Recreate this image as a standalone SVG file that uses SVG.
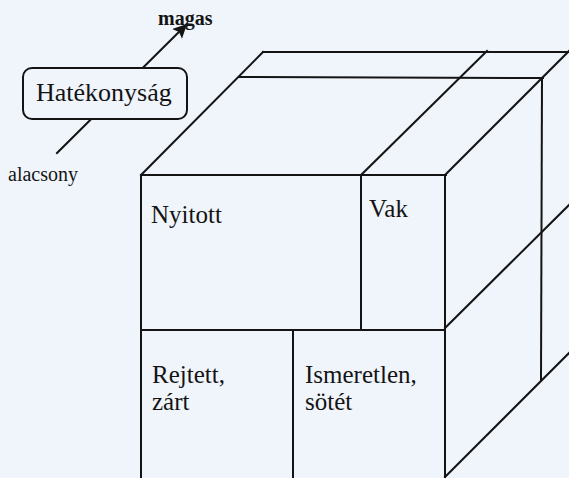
<svg xmlns="http://www.w3.org/2000/svg" width="569" height="478" viewBox="0 0 569 478">
  <style>
    .edge { stroke: #141414; stroke-width: 2; fill: none; stroke-linecap: square; }
    .lbl { font-family: "Liberation Serif", "Times New Roman", serif; fill: #141414; }
    .cell { font-size: 25px; }
    .axis { font-size: 20px; }
  </style>
  <defs>
    <marker id="arrowhead" viewBox="0 0 10 10" refX="9" refY="5" markerWidth="18" markerHeight="14" orient="auto" markerUnits="userSpaceOnUse">
      <path d="M0,0 L10,5 L0,10 L2,5 Z" fill="#141414"/>
    </marker>
  </defs>
  <rect width="569" height="478" fill="#f0f4fb"/>

  <!-- cube edges -->
  <g id="connectors">
    <!-- top face -->
    <line class="edge" x1="141" y1="175" x2="263" y2="52"/>
    <line class="edge" x1="361" y1="175" x2="487" y2="51"/>
    <line class="edge" x1="445" y1="175" x2="570" y2="50"/>
    <line class="edge" x1="263" y1="52" x2="569" y2="52"/>
    <line class="edge" x1="239" y1="77" x2="543" y2="78"/>
    <!-- right face -->
    <line class="edge" x1="542" y1="78" x2="541" y2="380"/>
    <line class="edge" x1="445" y1="328" x2="570" y2="204"/>
    <line class="edge" x1="445" y1="477" x2="570" y2="352"/>
  </g>

  <!-- front face quadrants -->
  <g id="front-face">
    <line class="edge" x1="141" y1="175" x2="141" y2="480"/>
    <line class="edge" x1="141" y1="175" x2="446" y2="175"/>
    <line class="edge" x1="445" y1="175" x2="445" y2="480"/>
    <line class="edge" x1="141" y1="330" x2="445" y2="330"/>
  </g>
  <g id="nyitott">
    <line class="edge" x1="361" y1="175" x2="361" y2="330"/>
    <text class="lbl cell" x="151" y="223">Nyitott</text>
  </g>
  <g id="vak">
    <text class="lbl cell" x="369" y="217">Vak</text>
  </g>
  <g id="rejtett">
    <text class="lbl cell" x="152" y="383">Rejtett,</text>
    <text class="lbl cell" x="152" y="410">zárt</text>
  </g>
  <g id="ismeretlen">
    <line class="edge" x1="293" y1="330" x2="293" y2="480"/>
    <text class="lbl cell" x="305" y="383">Ismeretlen,</text>
    <text class="lbl cell" x="305" y="410">sötét</text>
  </g>

  <!-- efficiency axis -->
  <g id="axis">
    <line class="edge" x1="57" y1="153" x2="186" y2="25" stroke-width="2.5" marker-end="url(#arrowhead)"/>
    <text class="lbl axis" x="158" y="25" font-weight="bold">magas</text>
    <text class="lbl axis" x="8" y="181">alacsony</text>
  </g>
  <g id="hatekonysag">
    <rect x="23" y="68" width="164" height="51" rx="9" fill="#f0f4fb" stroke="#141414" stroke-width="2"/>
    <text class="lbl" x="36" y="101" font-size="26">Hatékonyság</text>
  </g>
</svg>
